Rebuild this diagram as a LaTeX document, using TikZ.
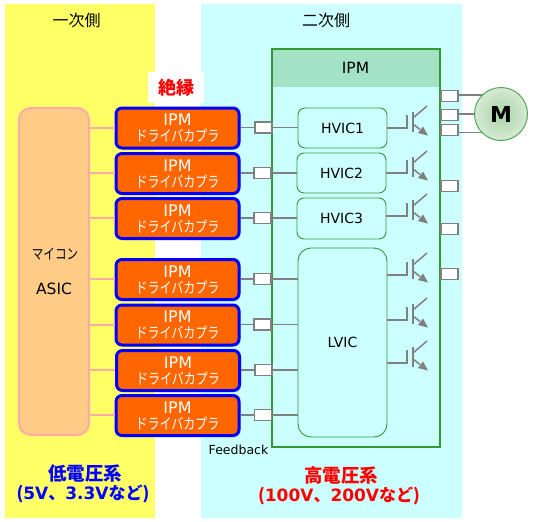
\documentclass[tikz,border=0pt]{standalone}
\usepackage{fontspec}
\setmainfont{DejaVu Sans}
\newfontfamily\jpf{Noto Sans CJK JP}
\newfontfamily\jpn{Noto Sans CJK JP}[FakeStretch=0.8]
\usetikzlibrary{shadows}
\definecolor{ylw}{HTML}{FFFF66}
\definecolor{cyn}{HTML}{CCFFFF}
\definecolor{hdr}{HTML}{A3E2C4}
\definecolor{grn}{HTML}{339933}
\definecolor{org}{HTML}{FF6600}
\definecolor{peach}{HTML}{FFCC88}
\definecolor{pnk}{HTML}{FFAAAA}
\definecolor{gry}{HTML}{808080}
\definecolor{mctr}{HTML}{A8D3A8}
\definecolor{medge}{HTML}{D6EAD4}
\newcommand{\fs}[1]{\fontsize{#1}{#1}\selectfont}
\tikzset{
  x=1pt,y=-1pt,
  coupler/.style={draw=blue,line width=3pt,fill=org,rounded corners=6pt,minimum width=123pt,minimum height=40pt,
    inner sep=0pt,align=center,text=white,font=\fs{16},
    drop shadow={shadow xshift=1.5pt,shadow yshift=-1.5pt,opacity=.3}},
  port/.style={draw=gry,line width=1.8pt,fill=white,minimum width=17pt,minimum height=11pt,inner sep=0pt},
  ic/.style={draw=grn,line width=.9pt,fill=cyn,rounded corners=7pt,inner sep=0pt,font=\fs{14}},
  wire/.style={draw=gry,line width=1.5pt},
  pinkwire/.style={draw=pnk,line width=2pt},
  title/.style={inner sep=0pt,font=\jpf\fs{16}},
  bigtxt/.style={inner sep=0pt,align=center,font=\bfseries\fs{17}},
}
\newcommand{\drv}{IPM\\[0pt]{\jpn\fs{15}ドライバカプラ}}
% transistor: #1 = gate wire start coordinate, #2 = y of gate
\newcommand{\igbt}[2]{%
  \draw[wire] (#1) -- (407,#2) -- (407,#2-13);
  \draw[wire] (413,#2-16) -- (413,#2+4);
  \draw[wire] (413,#2-10) -- (427,#2-22);
  \draw[wire] (413,#2-4) -- (420,#2+1.5);
  \fill[gry] (428,#2+7.5) -- (418,#2+5) -- (423,#2-1.5) -- cycle;
}
\begin{document}
\begin{tikzpicture}
\useasboundingbox (0,0) rectangle (533,522);
\fill[white] (0,0) rectangle (533,522);
% regions
\fill[ylw] (5,4) rectangle (155,518);
\fill[cyn] (201,4) rectangle (462,518);
\node[title] (t1) at (76.5,20) {一次側};
\node[title] (t2) at (326,20) {二次側};
% IPM frame
\fill[hdr] (272,49) rectangle (440,87);
\draw[grn,line width=1.5pt] (272,49) rectangle (440,447);
\node[inner sep=0pt,font=\fs{15.5}] (ipm) at (355.5,68) {IPM};
% insulation tag
\node[fill=white,minimum width=56pt,minimum height=31pt,inner sep=0pt,text=red,font=\jpf\bfseries\fs{18}] (zet) at (176,87.5) {絶縁};
% microcontroller
\node[draw=pnk,line width=2pt,fill=peach,rounded corners=12pt,minimum width=70pt,minimum height=327pt,inner sep=0pt] (mcu) at (54,271.5) {};
\node[inner sep=0pt,font=\jpn\fs{14.5}] (mcu1) at (55,254) {マイコン};
\node[inner sep=0pt,font=\fs{15.5}] (mcu2) at (54,289) {ASIC};
% couplers
\node[coupler] (c1) at (177.5,128) {\drv};
\node[coupler] (c2) at (177.5,173.5) {\drv};
\node[coupler] (c3) at (177.5,218.5) {\drv};
\node[coupler] (c4) at (177.5,279.5) {\drv};
\node[coupler] (c5) at (177.5,325) {\drv};
\node[coupler] (c6) at (178,370.5) {\drv};
\node[coupler] (c7) at (177.5,415.5) {\drv};
% ICs
\node[ic,minimum width=89pt,minimum height=40pt] (h1) at (342.5,128) {HVIC1};
\node[ic,minimum width=89pt,minimum height=40pt] (h2) at (341.5,173) {HVIC2};
\node[ic,minimum width=89pt,minimum height=41pt] (h3) at (341.5,218.5) {HVIC3};
\node[ic,rounded corners=13pt,minimum width=89pt,minimum height=189pt] (lv) at (342.5,342.5) {LVIC};
% primary side wires
\foreach \n/\yy in {1/128,2/173,3/218,4/279,5/325,6/370,7/415}{
  \coordinate (m\n) at (mcu.east |- 0,\yy);
  \draw[pinkwire] (m\n) -- (m\n -| c\n.west);
}
% ports left
\node[port] (p1) at (263.5,127.5) {};
\node[port] (p2) at (262.5,173) {};
\node[port] (p3) at (262.5,218) {};
\node[port] (p4) at (262.5,279) {};
\node[port] (p5) at (262.5,324.5) {};
\node[port] (p6) at (263.5,370) {};
\node[port] (p7) at (263,415) {};
\foreach \n in {1,...,7}{
  \draw[wire] (p\n.west) -- (p\n.west -| c\n.east);
}
\draw[wire] (p1.east) -- (p1.east -| h1.west);
\draw[wire] (p2.east) -- (p2.east -| h2.west);
\draw[wire] (p3.east) -- (p3.east -| h3.west);
\foreach \n in {4,...,7}{
  \draw[wire] (p\n.east) -- (p\n.east -| lv.west);
}
% transistors
\coordinate (g1) at (h1.east |- 0,128);
\coordinate (g2) at (h2.east |- 0,173);
\coordinate (g3) at (h3.east |- 0,216);
\coordinate (g4) at (lv.east |- 0,275);
\coordinate (g5) at (lv.east |- 0,320);
\coordinate (g6) at (lv.east |- 0,363);
\igbt{g1}{128}
\igbt{g2}{173}
\igbt{g3}{216}
\igbt{g4}{275}
\igbt{g5}{320}
\igbt{g6}{363}
% motor and output ports
\node[port] (o1) at (449.5,96) {};
\node[port] (o2) at (449.5,115) {};
\node[port] (o3) at (449.5,130) {};
\node[port] (o4) at (449.5,186) {};
\node[port] (o5) at (449.5,229) {};
\node[port] (o6) at (449.5,274) {};
\coordinate (l1) at (483,95);
\coordinate (l2) at (475,114);
\coordinate (l3) at (483,132.5);
\draw[wire] (o1.east |- l1) -- (l1);
\draw[wire] (o2.east |- l2) -- (l2);
\draw[wire] (o3.east |- l3) -- (l3);
\node[circle,draw=grn!85,line width=1pt,inner color=mctr,outer color=medge,minimum size=53pt,inner sep=0pt,font=\bfseries\fs{22}] (mot) at (501,114) {M};
% labels
\node[inner sep=0pt,font=\fs{12.5}] (fb) at (238.5,450) {Feedback};
\node[bigtxt,text=blue] (lo) at (83,483.5) {{\jpf\fs{18.5} 低電圧系}\\[2pt]{\jpf (}5V{\jpf 、}3.3V{\jpf など)}};
\node[bigtxt,text=red] (hi) at (339,486) {{\jpf\fs{18.5} 高電圧系}\\[2pt]{\jpf (}100V{\jpf 、}200V{\jpf など)}};
\end{tikzpicture}
\end{document}
